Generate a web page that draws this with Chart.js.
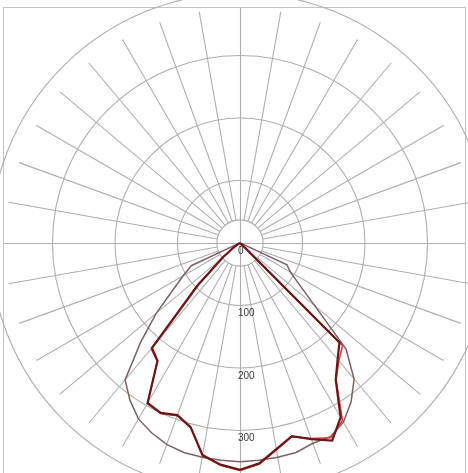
<!DOCTYPE html>
<html>
<head>
<meta charset="utf-8">
<title>Light distribution</title>
<script src="https://cdn.jsdelivr.net/npm/chart.js@4.4.1/dist/chart.umd.min.js"></script>
<style>
  html, body { margin: 0; padding: 0; background: #fff; }
  #wrap { width: 468px; height: 473px; position: relative; }
</style>
</head>
<body>
<div id="wrap"><canvas id="polarChart"></canvas></div>
<script>
'use strict';

// ─────────────────────────────────────────────
// DATA — gamma angles (deg, 0 = straight down) and intensities
// ─────────────────────────────────────────────
const gammaAngles = [-90, -85, -80, -75, -70, -65, -60, -55, -50, -45, -40, -35, -30, -25, -20, -15, -10, -5,
  0, 5, 10, 15, 20, 25, 30, 35, 40, 45, 50, 55, 60, 65, 70, 75, 80, 85, 90];

const planeC0 = [0, 0, 0, 0, 0, 0, 3, 12, 35, 95, 219, 230, 296, 300, 293, 305, 345, 356,
  363, 354, 335, 320, 334, 349, 322, 267, 243, 225, 4, 0, 0, 0, 0, 0, 0, 0, 0];

const planeC180 = [0, 0, 0, 0, 0, 0, 3, 13, 38, 100, 221, 231, 295, 301, 294, 306, 344, 357,
  364, 355, 336, 321, 333, 344, 328, 268, 246, 232, 5, 0, 0, 0, 0, 0, 0, 0, 0];

const planeC90 = [0, 0, 0, 0, 2, 86, 105, 131, 175, 225, 286, 307, 325, 335, 343, 347, 348, 349,
  350, 349, 348, 347, 341, 342, 331, 310, 284, 240, 156, 116, 93, 83, 2, 0, 0, 0, 0];

const ringValues = [100, 200, 300, 400];
const tickLabels = ['0', '100', '200', '300'];
const tickValues = [0, 100, 200, 300];
const spokeStep = 10;     // degrees between radial grid lines
const innerRadius = 37;   // empty hub in the middle
const spokeLength = 376;

// polar -> x/y for the scatter scales
const toXY = (vals) => vals.map((v, i) => {
  const a = gammaAngles[i] * Math.PI / 180;
  return { x: v * Math.sin(a), y: -v * Math.cos(a) };
});


// ─────────────────────────────────────────────
// POLAR GRID PLUGIN
// ─────────────────────────────────────────────
const polarGrid = {
  id: 'polarGrid',
  beforeDatasetsDraw(chart) {
    const { ctx, scales: { x, y } } = chart;
    const cx = x.getPixelForValue(0);
    const cy = y.getPixelForValue(0);
    const unit = x.getPixelForValue(100) - cx;
    const px = (v) => v * unit / 100;

    ctx.save();

    // frame
    ctx.strokeStyle = '#c4c4c4';
    ctx.lineWidth = 1;
    ctx.strokeRect(3.5, 7.5, 462, 480);

    ctx.strokeStyle = '#aeaeae';
    ctx.lineWidth = 1.1;

    // rings
    [innerRadius, ...ringValues].forEach((r) => {
      ctx.beginPath();
      ctx.arc(cx, cy, px(r), 0, Math.PI * 2);
      ctx.stroke();
    });

    // spokes
    for (let deg = 0; deg < 360; deg += spokeStep) {
      if (deg % 90 === 0) continue;
      const a = deg * Math.PI / 180;
      ctx.beginPath();
      ctx.moveTo(cx + Math.cos(a) * px(innerRadius), cy + Math.sin(a) * px(innerRadius));
      ctx.lineTo(cx + Math.cos(a) * px(spokeLength), cy + Math.sin(a) * px(spokeLength));
      ctx.stroke();
    }

    // main axes
    ctx.beginPath();
    ctx.moveTo(4, Math.round(cy) + 0.5);
    ctx.lineTo(465, Math.round(cy) + 0.5);
    ctx.moveTo(Math.round(cx) + 0.5, 8);
    ctx.lineTo(Math.round(cx) + 0.5, 473);
    ctx.stroke();

    // value labels
    ctx.fillStyle = '#3a3a3a';
    ctx.font = '10px "Liberation Sans", Arial, sans-serif';
    ctx.textAlign = 'left';
    ctx.textBaseline = 'top';
    tickValues.forEach((v, i) => {
      ctx.fillText(tickLabels[i], cx - 2, y.getPixelForValue(-v) + 3);
    });

    ctx.restore();
  },
};


// ─────────────────────────────────────────────
// CHART
// ─────────────────────────────────────────────
(function initChart() {
  const canvas = document.getElementById('polarChart');
  if (!canvas || typeof Chart === 'undefined') return;

  const line = (label, data, color, width, order) => ({
    label,
    data: toXY(data),
    showLine: true,
    borderColor: color,
    borderWidth: width,
    pointRadius: 0,
    tension: 0,
    fill: false,
    order,
  });

  new Chart(canvas, {
    type: 'scatter',
    data: {
      datasets: [
        line('C0', planeC0, '#6c1717', 2.2, 1),
        line('C180', planeC180, '#e3343a', 1.5, 2),
        line('C90', planeC90, '#7c6262', 1.5, 3),
      ],
    },
    options: {
      responsive: true,
      maintainAspectRatio: false,
      animation: false,
      layout: { padding: 0 },
      plugins: {
        legend: { display: false },
        tooltip: { enabled: false },
      },
      scales: {
        x: { type: 'linear', display: false, min: -384, max: 364.8 },
        y: { type: 'linear', display: false, min: -368, max: 388.8 },
      },
    },
    plugins: [polarGrid],
  });
})();
</script>
</body>
</html>
